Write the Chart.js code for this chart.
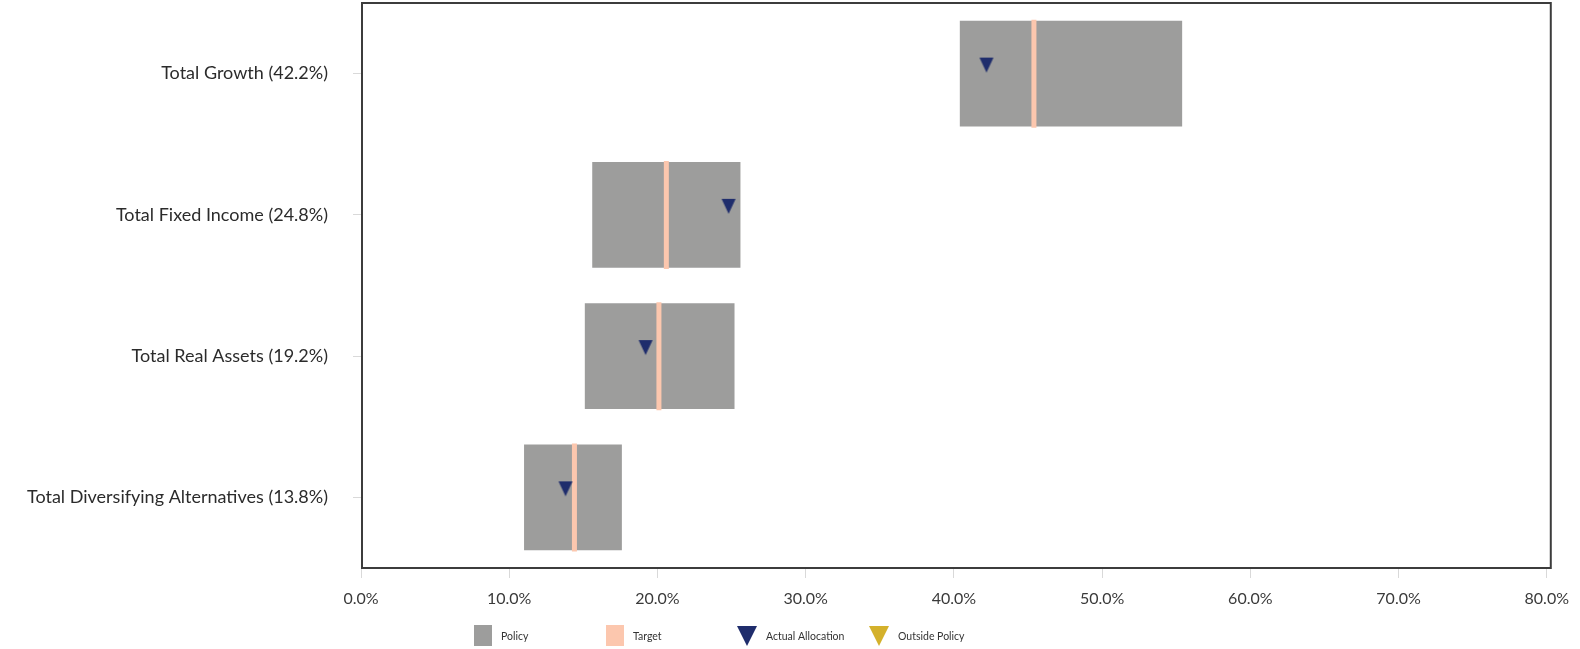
<!DOCTYPE html>
<html>
<head>
<meta charset="utf-8">
<script src="https://cdn.jsdelivr.net/npm/chart.js@4"></script>
<style>
  html, body { margin: 0; padding: 0; background: #ffffff; }
  #wrap { width: 1580px; height: 649px; position: relative; }
</style>
</head>
<body>
<div id="wrap"><canvas id="allocChart" width="1580" height="649"></canvas></div>
<script>
// asset classes with their current weight in the label
const categories = [
    'Total Growth (42.2%)',
    'Total Fixed Income (24.8%)',
    'Total Real Assets (19.2%)',
    'Total Diversifying Alternatives (13.8%)'
];
const policyLow = [40.4, 15.6, 15.1, 11.0];
const policyHigh = [55.4, 25.6, 25.2, 17.6];
const targets = [45.4, 20.6, 20.1, 14.4];
const actual = [42.2, 24.8, 19.2, 13.8];
const axisMin = 0;
const axisMax = 80;
const axisStep = 10;

const POLICY_COLOR = '#9d9d9c';
const TARGET_COLOR = '#fcc7ae';
const ACTUAL_COLOR = '#1f2d6c';
const OUTSIDE_COLOR = '#d4b12b';
const FONT = 'Lato, "Open Sans", sans-serif';

// allocations falling outside the policy band get the gold marker
const inside = actual.map((v, i) => (v >= policyLow[i] && v <= policyHigh[i]) ? v : null);
const outside = actual.map((v, i) => (v < policyLow[i] || v > policyHigh[i]) ? v : null);

// downward triangle sitting just above the category centre line
function triangleIcon(color) {
    const c = document.createElement('canvas');
    c.width = 16;
    c.height = 36;
    const g = c.getContext('2d');
    g.fillStyle = color;
    g.beginPath();
    g.moveTo(1, 2);
    g.lineTo(15, 2);
    g.lineTo(8, 17);
    g.closePath();
    g.fill();
    return c;
}

const frameAndLegend = {
    id: 'frameAndLegend',
    afterDraw(chart) {
        const ctx = chart.ctx;
        const a = chart.chartArea;
        ctx.save();
        ctx.strokeStyle = '#3c3c3c';
        ctx.lineWidth = 2;
        // frame runs a few px past the 80% mark on the right
        ctx.strokeRect(a.left + 1, a.top, a.right - a.left + 3, a.bottom - a.top);

        // legend row under the axis
        const items = [
            { text: 'Policy', kind: 'box', color: POLICY_COLOR },
            { text: 'Target', kind: 'box', color: TARGET_COLOR },
            { text: 'Actual Allocation', kind: 'tri', color: ACTUAL_COLOR },
            { text: 'Outside Policy', kind: 'tri', color: OUTSIDE_COLOR }
        ];
        const startX = 474, step = 132, top = 625, cy = 637;
        ctx.font = '10.5px ' + FONT;
        ctx.textBaseline = 'middle';
        ctx.textAlign = 'left';
        items.forEach((it, i) => {
            const x = startX + i * step;
            ctx.fillStyle = it.color;
            if (it.kind === 'box') {
                ctx.fillRect(x, top, 18, 21);
            } else {
                ctx.beginPath();
                ctx.moveTo(x - 1, top + 1);
                ctx.lineTo(x + 19, top + 1);
                ctx.lineTo(x + 9, top + 21);
                ctx.closePath();
                ctx.fill();
            }
            ctx.fillStyle = '#333333';
            ctx.fillText(it.text, x + (it.kind === 'box' ? 27 : 28), cy);
        });
        ctx.restore();
    }
};

new Chart(document.getElementById('allocChart'), {
    type: 'bar',
    data: {
        labels: categories,
        datasets: [
            {
                label: 'Policy',
                data: policyLow.map((lo, i) => [lo, policyHigh[i]]),
                backgroundColor: POLICY_COLOR,
                borderWidth: 0,
                barPercentage: 0.75,
                categoryPercentage: 1,
                grouped: false,
                order: 3
            },
            {
                type: 'line',
                label: 'Target',
                data: targets,
                showLine: false,
                pointStyle: 'line',
                rotation: 90,
                pointRadius: 54,
                pointHoverRadius: 54,
                borderWidth: 5,
                pointBorderWidth: 5,
                borderColor: TARGET_COLOR,
                pointBorderColor: TARGET_COLOR,
                order: 2
            },
            {
                type: 'line',
                label: 'Actual Allocation',
                data: inside,
                showLine: false,
                pointStyle: triangleIcon(ACTUAL_COLOR),
                order: 1
            },
            {
                type: 'line',
                label: 'Outside Policy',
                data: outside,
                showLine: false,
                pointStyle: triangleIcon(OUTSIDE_COLOR),
                order: 0
            }
        ]
    },
    options: {
        indexAxis: 'y',
        responsive: false,
        animation: false,
        events: [],
        layout: {
            autoPadding: false,
            padding: { top: 3, right: 31, bottom: 37, left: 0 }
        },
        plugins: {
            legend: { display: false },
            tooltip: { enabled: false }
        },
        scales: {
            x: {
                type: 'linear',
                min: axisMin,
                max: axisMax,
                ticks: {
                    stepSize: axisStep,
                    color: '#3a3a3a',
                    padding: 11,
                    font: { family: FONT, size: 16 },
                    callback: v => v.toFixed(1) + '%'
                },
                grid: {
                    drawOnChartArea: false,
                    drawTicks: true,
                    tickLength: 10,
                    color: '#d9d9d9'
                },
                border: { display: false },
                afterFit(scale) {
                    scale.height = 44;
                }
            },
            y: {
                type: 'category',
                ticks: {
                    color: '#2b2b2b',
                    padding: 25,
                    font: { family: FONT, size: 18 }
                },
                grid: {
                    offset: false,
                    drawOnChartArea: false,
                    drawTicks: true,
                    tickLength: 8,
                    color: '#d9d9d9'
                },
                border: { display: false },
                afterFit(scale) {
                    // label padding is only meant horizontally
                    scale.width = 361;
                    scale.paddingTop = 0;
                    scale.paddingBottom = 0;
                }
            }
        }
    },
    plugins: [frameAndLegend]
});
</script>
</body>
</html>
